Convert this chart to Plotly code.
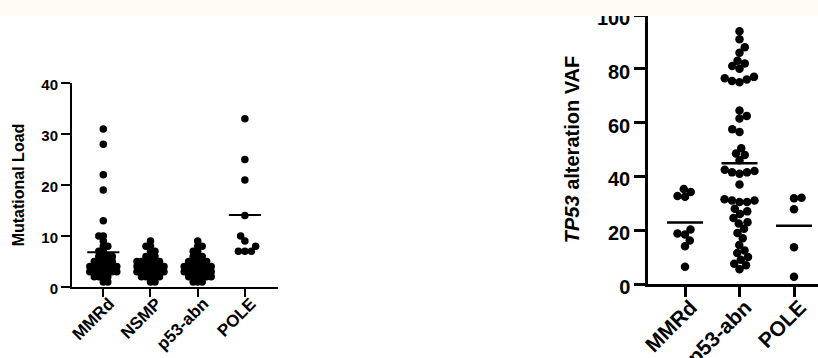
import plotly.graph_objects as go

# ---------------- data ----------------
load_categories = ["MMRd", "NSMP", "p53-abn", "POLE"]
load_mmrd = [31, 28, 22, 19, 13, 10, 10, 9, 8, 8, 7, 7, 6, 6, 6, 6, 5, 5, 5, 5, 5,
             4, 4, 4, 4, 4, 4, 4, 3, 3, 3, 3, 3, 3, 3, 2, 2, 2, 2, 1, 1]
load_nsmp = [9, 8, 8, 7, 7, 6, 6, 6, 5, 5, 5, 5, 5, 5, 4, 4, 4, 4, 4, 4, 4,
             3, 3, 3, 3, 3, 3, 3, 2, 2, 2, 2, 2, 1, 1]
load_p53 = [9, 8, 8, 7, 7, 6, 6, 6, 5, 5, 5, 5, 5, 4, 4, 4, 4, 4, 4, 4,
            3, 3, 3, 3, 3, 3, 3, 2, 2, 2, 2, 2, 2, 1, 1, 1]
load_pole = [33, 25, 21, 14, 10, 9, 8, 7, 7, 7]
load_yticks = [0, 10, 20, 30, 40]

vaf_categories = ["MMRd", "p53-abn", "POLE"]
vaf_mmrd = [35.3, 34.2, 32.7, 32.4, 20.3, 18.8, 18.4, 16.2, 14.0, 6.4]
vaf_p53 = [94, 91, 88, 86, 83, 82, 81, 80, 77, 76.5, 76, 75.5, 75,
           64.5, 62.5, 61.5, 57.5, 56.5, 50.5, 48.5, 48, 46, 42.5, 42, 41.5, 41.5, 41, 37,
           31.5, 31, 31, 30.5, 30.5, 28, 27, 26, 24.5, 23, 22.5, 20.5, 19, 17, 14.5,
           12.5, 11.5, 10, 9, 7.5, 7, 5.5]
vaf_pole = [32.1, 31.9, 27.8, 13.7, 2.7]
vaf_yticks = [0, 20, 40, 60, 80, 100]

# ---------------- layout geometry (pixels) ----------------
W, H = 818, 358
FONT = "Liberation Sans"

L_X0, L_X1, L_YT, L_YB = 72, 278, 83, 287
L_XMIN = -0.663
L_XSTEP = 47.2
L_XMAX = L_XMIN + (L_X1 - L_X0) / L_XSTEP
L_YMAX = 40

R_X0, R_X1, R_YT, R_YB = 648, 818, 15, 284
R_XMIN = -0.679
R_XSTEP = 54.5
R_XMAX = R_XMIN + (R_X1 - R_X0) / R_XSTEP
R_YMAX = 100


def swarm_offsets(values, y_px_per_unit, gap, step=0.25):
    """Greedy beeswarm: returns horizontal pixel offsets."""
    order = sorted(range(len(values)), key=lambda i: values[i])
    placed = []
    offs = [0.0] * len(values)
    flip = 1
    for i in order:
        y = values[i] * y_px_per_unit
        k = 0
        found = None
        while found is None:
            cands = [0.0] if k == 0 else [flip * k * step, -flip * k * step]
            for x in cands:
                if all((x - px) ** 2 + (y - py) ** 2 >= gap ** 2 - 1e-9 for px, py in placed):
                    found = x
                    break
            k += 1
        if found != 0:
            flip = -flip
        offs[i] = found
        placed.append((found, y))
    return offs


fig = go.Figure()


def add_group(idx, vals, xstep, ypx, gap, msize, hw, lw, xa, ya):
    offs = swarm_offsets(vals, ypx, gap)
    fig.add_trace(go.Scatter(
        x=[idx + o / xstep for o in offs], y=vals, mode="markers",
        marker=dict(color="black", size=msize, line=dict(width=0)),
        xaxis=xa, yaxis=ya, cliponaxis=False, hoverinfo="skip", showlegend=False))
    m = sum(vals) / len(vals)
    fig.add_trace(go.Scatter(
        x=[idx - hw, idx + hw], y=[m, m], mode="lines",
        line=dict(color="black", width=lw),
        xaxis=xa, yaxis=ya, cliponaxis=False, hoverinfo="skip", showlegend=False))


L_YPX = (L_YB - L_YT) / L_YMAX
R_YPX = (R_YB - R_YT) / R_YMAX

left_gaps = [4.5, 4.5, 4.5, 6.5]
for i, vals in enumerate([load_mmrd, load_nsmp, load_p53, load_pole]):
    add_group(i, vals, L_XSTEP, L_YPX, left_gaps[i], 7.5, 0.34, 2, "x", "y")

for i, vals in enumerate([vaf_mmrd, vaf_p53, vaf_pole]):
    add_group(i, vals, R_XSTEP, R_YPX, 7.5, 8.5, 0.33, 2.5, "x2", "y2")


def bold(items):
    return ["<b>%s</b>" % t for t in items]


axis_common = dict(showgrid=False, zeroline=False, showline=True, linecolor="black",
                   ticks="outside", tickcolor="black", fixedrange=True, tickmode="array",
                   automargin=False)

fig.update_layout(
    width=W, height=H,
    margin=dict(l=0, r=0, t=0, b=0, pad=0, autoexpand=False),
    paper_bgcolor="white", plot_bgcolor="white",
    showlegend=False,
    xaxis=dict(**axis_common, domain=[L_X0 / W, L_X1 / W], range=[L_XMIN, L_XMAX],
               tickvals=list(range(len(load_categories))),
               ticktext=bold(load_categories), tickangle=-45, ticklen=8, tickwidth=2,
               linewidth=2, ticklabelshift=6, ticklabelstandoff=-10,
               tickfont=dict(family=FONT, size=17, color="black"), anchor="y"),
    yaxis=dict(**axis_common, domain=[1 - L_YB / H, 1 - L_YT / H], range=[0, L_YMAX],
               tickvals=load_yticks, ticktext=bold(load_yticks), ticklen=9, tickwidth=2,
               linewidth=2, ticklabelshift=2,
               tickfont=dict(family=FONT, size=15, color="black"), anchor="x",
               title=dict(text="<b>Mutational Load</b>", standoff=13,
                          font=dict(family=FONT, size=16, color="black"))),
    xaxis2=dict(**axis_common, domain=[R_X0 / W, R_X1 / W], range=[R_XMIN, R_XMAX],
                tickvals=list(range(len(vaf_categories))),
                ticktext=bold(vaf_categories), tickangle=-45, ticklen=10, tickwidth=2.5,
                linewidth=2.5, ticklabelshift=6, ticklabelstandoff=-10,
                tickfont=dict(family=FONT, size=21, color="black"), anchor="y2"),
    yaxis2=dict(**axis_common, domain=[1 - R_YB / H, 1 - R_YT / H], range=[0, R_YMAX],
                tickvals=vaf_yticks, ticktext=bold(vaf_yticks), ticklen=11, tickwidth=2.5,
                linewidth=2.5, ticklabelshift=3,
                tickfont=dict(family=FONT, size=20, color="black"), anchor="x2",
                title=dict(text="<b><i>TP53</i> alteration VAF</b>", standoff=12,
                           font=dict(family=FONT, size=20, color="black"))),
    shapes=[dict(type="rect", xref="paper", yref="paper", x0=0, x1=1,
                 y0=1 - 16 / H, y1=1.02, fillcolor="#fffdf3", line=dict(width=0),
                 layer="above")],
)

fig.write_html("out.html")
